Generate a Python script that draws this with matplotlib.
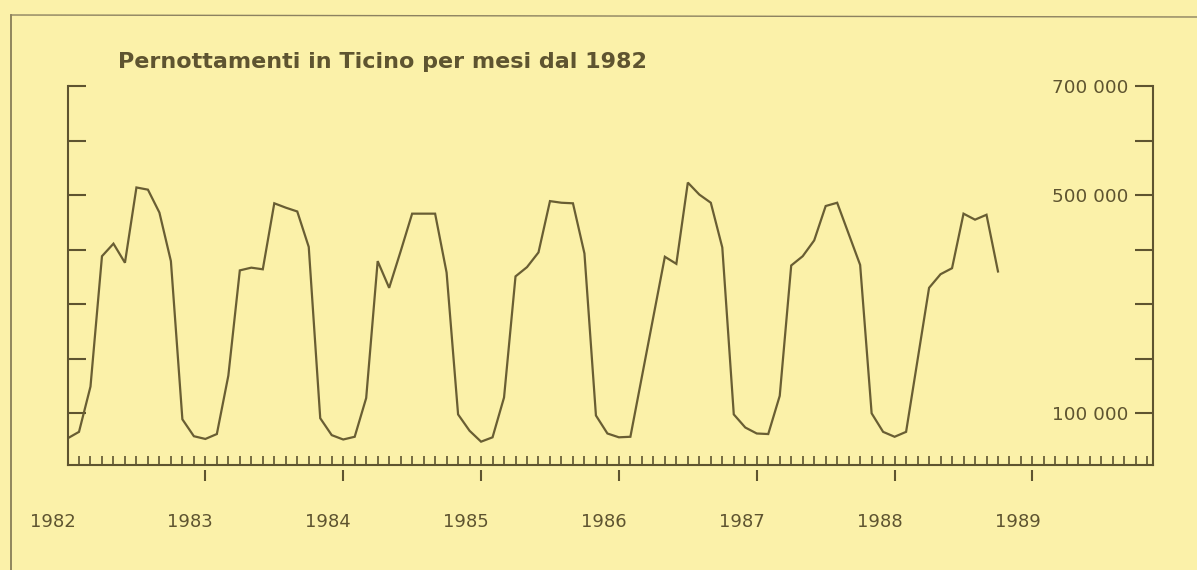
import numpy as np
import matplotlib.pyplot as plt
import matplotlib.transforms as mtransforms
from matplotlib.lines import Line2D
from matplotlib.ticker import FixedLocator, FixedFormatter

# Pernottamenti mensili in Ticino (migliaia), gen 1982 - ott 1988
pern_1982 = [54, 66, 149, 388, 411, 376, 514, 510, 468, 379, 89, 58]
pern_1983 = [53, 62, 169, 362, 367, 364, 485, 477, 470, 405, 91, 60]
pern_1984 = [52, 57, 128, 379, 330, 397, 466, 466, 466, 358, 98, 68]
pern_1985 = [48, 56, 129, 351, 368, 395, 489, 486, 485, 393, 96, 63]
pern_1986 = [56, 57, 167, 277, 387, 374, 523, 501, 486, 404, 98, 74]
pern_1987 = [63, 62, 132, 371, 388, 417, 480, 486, 429, 372, 100, 66]
pern_1988 = [57, 66, 198, 330, 355, 366, 466, 455, 464, 360]

anni = [1982, 1983, 1984, 1985, 1986, 1987, 1988, 1989]
etichette_anni = ['1982', '1983', '1984', '1985', '1986', '1987', '1988', '1989']
y_etichettati = [100000, 500000, 700000]
y_etichette = ['100 000', '500 000', '700 000']
y_altri = [200000, 300000, 400000, 600000]

titolo = 'Pernottamenti in Ticino per mesi dal 1982'

valori = np.concatenate([pern_1982, pern_1983, pern_1984, pern_1985,
                         pern_1986, pern_1987, pern_1988]) * 1000
mesi = 1982 + np.arange(len(valori)) / 12

sfondo = '#fbf1a9'
inchiostro = '#5e5430'

plt.rcParams['font.family'] = 'DejaVu Sans'

fig = plt.figure(figsize=(11.97, 5.70), dpi=100, facecolor=sfondo)
ax = fig.add_axes([0.0564, 0.1835, 0.9069, 0.6656], facecolor=sfondo)

ax.plot(mesi, valori, color='#695e33', lw=1.6, solid_joinstyle='miter')

ax.set_xlim(1982, 1989.875)
ax.set_ylim(4500, 700000)

ax.spines['top'].set_visible(False)
for lato in ['left', 'right', 'bottom']:
    ax.spines[lato].set_color(inchiostro)
    ax.spines[lato].set_linewidth(1.5)

# asse y: tacche verso l'interno su entrambi i lati, etichette dentro a destra
ax.yaxis.set_major_locator(FixedLocator(y_etichettati))
ax.yaxis.set_major_formatter(FixedFormatter(y_etichette))
ax.yaxis.set_minor_locator(FixedLocator(y_altri))
ax.tick_params(axis='y', which='both', direction='in', left=True, right=True,
               length=13, width=1.5, color=inchiostro)
ax.tick_params(axis='y', which='major', labelleft=False, labelright=True,
               pad=-18, labelsize=13.3, labelcolor=inchiostro)
for lab in ax.yaxis.get_majorticklabels():
    lab.set_ha('right')

# asse x: tacche mensili verso l'interno, anni sotto
ax.xaxis.remove_overlapping_locs = False
ax.xaxis.set_minor_locator(FixedLocator(1982 + np.arange(0, 95) / 12))
ax.xaxis.set_major_locator(FixedLocator(anni))
ax.xaxis.set_major_formatter(FixedFormatter(etichette_anni))
ax.tick_params(axis='x', which='minor', direction='in', length=6.2, width=1.2,
               color=inchiostro)
ax.tick_params(axis='x', which='major', length=0, pad=34, labelsize=13,
               labelcolor=inchiostro)
sposta = mtransforms.ScaledTranslation(-15 / 100, 0, fig.dpi_scale_trans)
for lab in ax.xaxis.get_majorticklabels():
    lab.set_transform(lab.get_transform() + sposta)

sec = ax.secondary_xaxis(-0.012)
sec.set_xticks(anni[1:])
sec.tick_params(direction='out', length=8, width=1.5, color=inchiostro,
                labelbottom=False)
sec.spines['bottom'].set_visible(False)

fig.text(118 / 1197, 1 - 62 / 570, titolo, fontsize=16, fontweight='bold',
         color=inchiostro, va='center', ha='left')

# cornice
fig.add_artist(Line2D([11 / 1197, 11 / 1197], [0, 1 - 15 / 570],
                      transform=fig.transFigure, color='#7d7350', lw=1.2))
fig.add_artist(Line2D([11 / 1197, 1], [1 - 15 / 570, 1 - 17 / 570],
                      transform=fig.transFigure, color='#8c8260', lw=1.0))

fig.savefig('out.png', dpi=100, facecolor=sfondo)
